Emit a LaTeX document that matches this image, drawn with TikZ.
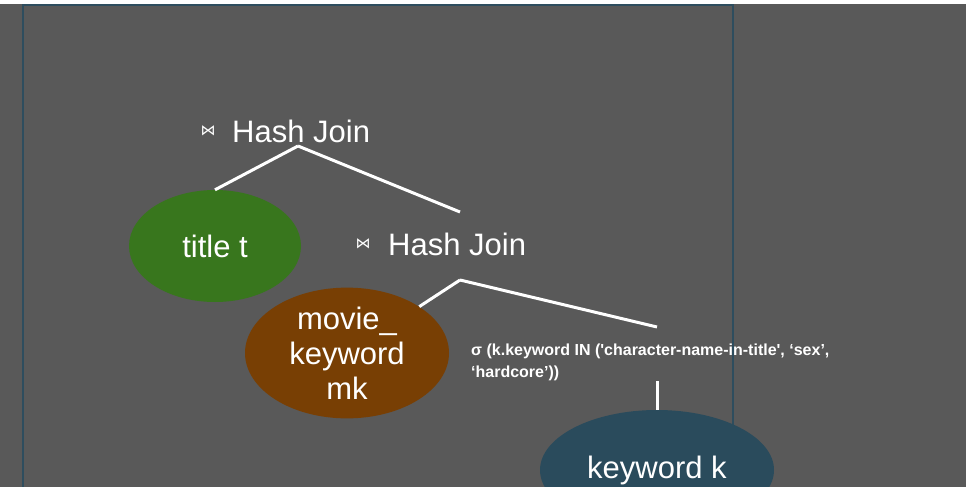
\documentclass[tikz,border=0pt]{standalone}
\usepackage{fontspec}
\setmainfont{Liberation Sans}
\newfontfamily\symfont{DejaVu Sans}
\usetikzlibrary{shapes.geometric}
\definecolor{bggray}{HTML}{595959}
\definecolor{frameblue}{HTML}{2E4D5E}
\definecolor{titlegreen}{HTML}{38761D}
\definecolor{mkbrown}{HTML}{783F04}
\definecolor{kwblue}{HTML}{2A4B5C}
\tikzset{
  rel/.style={ellipse, inner sep=0pt, text=white, font=\fontsize{31}{35}\selectfont, align=center},
  joinlabel/.style={text=white, font=\fontsize{31}{36}\selectfont, inner sep=0pt, anchor=west},
  joinsym/.style={text=white, font=\symfont\fontsize{15}{18}\selectfont, inner sep=0pt},
  edge/.style={draw=white, line width=3pt},
  predicate/.style={text=white, font=\bfseries\fontsize{16}{22}\selectfont, align=left, inner sep=0pt, anchor=north west}
}
\begin{document}
\begin{tikzpicture}[x=1pt,y=-1pt]
  \useasboundingbox (0,0) rectangle (966,487);
  % canvas
  \fill[bggray] (0,0) rectangle (966,487);
  \fill[white] (0,0) rectangle (966,4);
  \draw[frameblue, line width=2pt] (23,495) -- (23,5) -- (733,5) -- (733,495);

  % upper hash join
  \node[joinsym] (sym1) at (208,131) {⋈};
  \node[joinlabel] (join1) at (232,131) {Hash Join};
  \coordinate (j1) at (298,146);
  \coordinate (j1r) at (460,212);

  % lower hash join
  \node[joinsym] (sym2) at (363,244) {⋈};
  \node[joinlabel] (join2) at (388,244) {Hash Join};
  \coordinate (j2) at (460,280);
  \coordinate (selin) at (657,327);
  \coordinate (selout) at (657,381);

  % relations
  \node[rel, fill=titlegreen, minimum width=172pt, minimum height=112pt] (title) at (215,246) {title t};
  \node[rel, fill=mkbrown, minimum width=204pt, minimum height=128pt] (mk) at (347,353) {movie\_\\keyword\\mk};
  \node[rel, fill=kwblue, minimum width=234pt, minimum height=120pt] (kw) at (657,470) {keyword k};

  % selection predicate
  \node[predicate] (sel) at (471,344) {σ (k.keyword IN (\textquotesingle character-name-in-title\textquotesingle, ‘sex’,\\‘hardcore’))};

  % tree edges
  \draw[edge] (j1) -- (title.north);
  \draw[edge] (j1) -- (j1r);
  \draw[edge] (j2) -- (mk.north east);
  \draw[edge] (j2) -- (selin);
  \draw[edge] (selout) -- (kw.north);
\end{tikzpicture}
\end{document}
